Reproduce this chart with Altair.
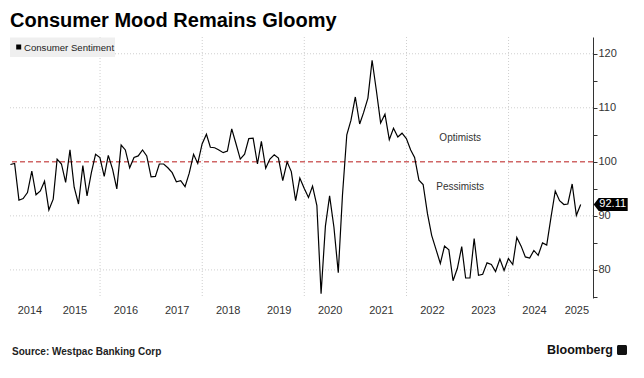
import altair as alt
import pandas as pd

# ---- data (monthly, Westpac consumer sentiment; Mar 2014 .. May 2025) ----
v2014 = [99.5, 99.7, 92.9, 93.2, 94.3, 98.3, 93.9, 94.6, 96.4, 91.1]
v2015 = [93.1, 100.5, 99.6, 96.2, 102.2, 95.3, 92.2, 99.3, 93.7, 98.0, 101.4, 100.8]
v2016 = [97.3, 101.2, 98.6, 95.0, 103.1, 102.2, 98.9, 100.8, 101.1, 102.2, 101.1, 97.2]
v2017 = [97.3, 99.6, 99.6, 98.9, 98.0, 96.3, 96.5, 95.4, 97.9, 101.4, 99.7, 103.3]
v2018 = [105.1, 102.7, 102.6, 102.2, 101.7, 102.0, 106.1, 103.3, 100.5, 101.4, 104.3, 104.4]
v2019 = [99.6, 103.8, 98.8, 100.5, 101.3, 100.7, 96.5, 100.0, 98.2, 92.8, 97.0, 95.1]
v2020 = [93.4, 95.5, 91.9, 75.6, 88.1, 93.7, 87.9, 79.5, 93.8, 105.0, 107.7, 112.0]
v2021 = [107.0, 109.1, 111.8, 118.8, 113.1, 107.2, 108.8, 104.1, 106.2, 104.6, 105.3, 104.3]
v2022 = [102.2, 100.8, 96.6, 95.8, 90.4, 86.4, 83.8, 81.2, 84.4, 83.7, 78.0, 80.3]
v2023 = [84.3, 78.5, 78.5, 85.8, 79.0, 79.2, 81.3, 81.0, 79.7, 82.0, 79.9, 82.1]
v2024 = [81.0, 86.0, 84.4, 82.4, 82.2, 83.6, 82.7, 85.0, 84.6, 89.8, 94.6, 92.8]
v2025 = [92.1, 92.2, 95.9, 90.1, 92.11]

values = v2014 + v2015 + v2016 + v2017 + v2018 + v2019 + v2020 + v2021 + v2022 + v2023 + v2024 + v2025
dates = pd.date_range("2014-04-01", "2025-06-01", freq="MS") - pd.Timedelta(days=1)

year_labels = [2014, 2015, 2016, 2017, 2018, 2019, 2020, 2021, 2022, 2023, 2024, 2025]
grid_years = [2016, 2018, 2020, 2022, 2024]
y_ticks = [75, 80, 85, 90, 95, 100, 105, 110, 115, 120]
y_grid = [80, 90, 110, 120]
threshold = 100

annotations = pd.DataFrame({
    "date": ["2023-01-20", "2023-01-20"],
    "value": [104.4, 95.3],
    "label": ["Optimists", "Pessimists"],
})

domain_start = pd.Timestamp("2014-03-28")
domain_end = pd.Timestamp("2025-08-27")

# ---- derived tables ----
df = pd.DataFrame({"date": dates.strftime("%Y-%m-%d"), "value": values})
last = df.tail(1)


def dt(ts):
    return alt.DateTime(year=int(ts.year), month=int(ts.month), date=int(ts.day))


label_dates = []
for y in year_labels:
    a = max(pd.Timestamp(f"{y}-01-01"), domain_start)
    b = min(pd.Timestamp(f"{y}-12-31"), domain_end)
    label_dates.append(dt(a + (b - a) / 2))

FONT = "Liberation Sans"
xscale = alt.Scale(domain=[dt(domain_start), dt(domain_end)])
yscale = alt.Scale(domain=[74.8, 123.1], nice=False, zero=False)

xaxis = alt.Axis(values=label_dates, labelExpr="timeFormat(datum.value, '%Y')",
                 ticks=False, domain=False, grid=False, title=None,
                 labelFontSize=11, labelColor="#333333", labelPadding=6,
                 labelFont=FONT)
yaxis = alt.Axis(orient="right", values=y_ticks,
                 labelExpr="datum.value % 10 === 0 ? datum.label : ''",
                 tickSize=4, tickColor="#333333", domainColor="#333333",
                 labelFontSize=11, labelColor="#333333", labelPadding=1,
                 grid=False, title=None, labelFont=FONT)


def X(field):
    return alt.X(field, scale=xscale, axis=xaxis, title=None)


def Y(field):
    return alt.Y(field, scale=yscale, axis=yaxis, title=None)


line = alt.Chart(df).mark_line(color="black", strokeWidth=1.2).encode(
    x=X("date:T"), y=Y("value:Q"),
)

grid_h = alt.Chart(pd.DataFrame({"v": y_grid})).mark_rule(
    color="#cfcfcf", strokeDash=[1, 2], strokeWidth=1
).encode(y=Y("v:Q"))

grid_v = alt.Chart(pd.DataFrame({"d": [f"{y}-01-01" for y in grid_years]})).mark_rule(
    color="#cfcfcf", strokeDash=[1, 2], strokeWidth=1
).encode(x=X("d:T"))

ref = alt.Chart(pd.DataFrame({"v": [threshold]})).mark_rule(
    color="#d06666", strokeDash=[5, 3], strokeWidth=1.5
).encode(y=Y("v:Q"))

notes = alt.Chart(annotations).mark_text(
    fontSize=10, color="#333333", align="center", baseline="middle", font=FONT
).encode(x=X("date:T"), y=Y("value:Q"), text="label:N")

tag = alt.Chart(last).mark_point(
    shape="M 13 0 L 18 -6.5 L 47 -6.5 L 47 6.5 L 18 6.5 Z",
    size=4, filled=True, fill="black", opacity=1, strokeWidth=0,
).encode(x=X("date:T"), y=Y("value:Q"))
tag_text = alt.Chart(last).mark_text(
    color="white", fontSize=11, dx=32, align="center", baseline="middle", font=FONT
).encode(x=X("date:T"), y=Y("value:Q"), text=alt.Text("value:Q", format=".2f"))

one = pd.DataFrame({"k": [0]})
title = alt.Chart(one).mark_text(
    text="Consumer Mood Remains Gloomy", fontSize=20, fontWeight="bold",
    color="black", align="left", baseline="alphabetic", font=FONT
).encode(x=alt.value(0), y=alt.value(-10))

legend_bg = alt.Chart(one).mark_rect(color="#efefef").encode(
    x=alt.value(0), x2=alt.value(105), y=alt.value(0.5), y2=alt.value(20)
)
legend_sym = alt.Chart(one).mark_square(size=25, color="black", opacity=1).encode(
    x=alt.value(8.7), y=alt.value(10)
)
legend_txt = alt.Chart(one).mark_text(
    text="Consumer Sentiment", fontSize=9.6, color="#222222", align="left",
    baseline="middle", font=FONT
).encode(x=alt.value(14), y=alt.value(10.5))

source = alt.Chart(one).mark_text(
    text="Source: Westpac Banking Corp", fontSize=10, fontWeight="bold",
    color="#222222", align="left", baseline="middle", font=FONT
).encode(x=alt.value(2), y=alt.value(315))

brand = alt.Chart(one).mark_text(
    text="Bloomberg", fontSize=12.5, fontWeight="bold", color="#111111",
    align="right", baseline="middle", font=FONT
).encode(x=alt.value(603), y=alt.value(313))
logo = alt.Chart(one).mark_rect(color="#111111", cornerRadius=1.5).encode(
    x=alt.value(607), x2=alt.value(617), y=alt.value(308), y2=alt.value(318)
)

chart = alt.layer(
    grid_h, grid_v, ref, line, notes, tag, tag_text, title,
    legend_bg, legend_sym, legend_txt, source, brand, logo
).properties(
    width=583, height=261,
    autosize=alt.AutoSizeParams(type="none"),
    padding={"left": 2, "top": 29, "right": 43, "bottom": 72},
).configure(background="white", font=FONT).configure_view(stroke=None)

chart.save("out.html", embed_options={"renderer": "svg", "actions": False})
